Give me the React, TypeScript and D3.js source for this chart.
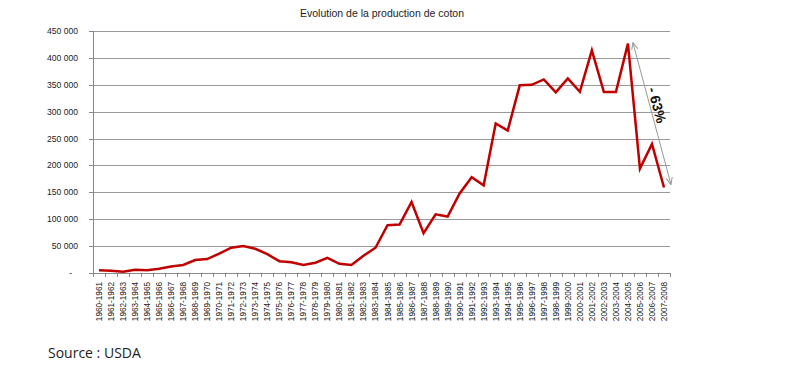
import React, { useEffect, useRef } from "react";
import * as d3 from "d3";

const seasons = [
  "1960-1961", "1961-1962", "1962-1963", "1963-1964", "1964-1965", "1965-1966",
  "1966-1967", "1967-1968", "1968-1969", "1969-1970", "1970-1971", "1971-1972",
  "1972-1973", "1973-1974", "1974-1975", "1975-1976", "1976-1977", "1977-1978",
  "1978-1979", "1979-1980", "1980-1981", "1981-1982", "1982-1983", "1983-1984",
  "1984-1985", "1985-1986", "1986-1987", "1987-1988", "1988-1989", "1989-1990",
  "1990-1991", "1991-1992", "1992-1993", "1993-1994", "1994-1995", "1995-1996",
  "1996-1997", "1997-1998", "1998-1999", "1999-2000", "2000-2001", "2001-2002",
  "2002-2003", "2003-2004", "2004-2005", "2005-2006", "2006-2007", "2007-2008",
];

const production = [
  5000, 4000, 2500, 6000, 5000, 8000,
  12000, 15000, 24000, 26000, 36000, 47000,
  50000, 45000, 35000, 22000, 20000, 15000,
  19000, 28000, 17000, 15000, 32000, 47000,
  89000, 90000, 132000, 74000, 109000, 105000,
  148000, 178000, 163000, 278000, 265000, 349000,
  350000, 360000, 336000, 362000, 337000, 414000,
  336500, 336500, 426500, 194000, 240000, 159000,
];

const yTicks = [0, 50000, 100000, 150000, 200000, 250000, 300000, 350000, 400000, 450000];

const title = "Evolution de la production de coton";
const source = "Source : USDA";
const dropLabel = "- 63%";

const W = 800;
const H = 366;

export default function App() {
  const svgRef = useRef<SVGSVGElement>(null);

  useEffect(() => {
    const svg = d3.select(svgRef.current);
    svg.selectAll("*").remove();

    const left = 93, right = 670, top = 31, bottom = 273;

    const x = d3.scaleBand().domain(seasons).range([left, right]);
    const y = d3.scaleLinear().domain([0, 450000]).range([bottom, top]);
    const cx = (s: string) => (x(s) as number) + x.bandwidth() / 2;

    // title
    svg.append("text")
      .attr("x", 382).attr("y", 17)
      .attr("text-anchor", "middle")
      .attr("font-family", "Liberation Sans, Arial, sans-serif")
      .attr("font-size", 10.5)
      .attr("fill", "#222")
      .text(title);

    // gridlines
    svg.append("g").selectAll("line")
      .data(yTicks.slice(1))
      .join("line")
      .attr("x1", left).attr("x2", right)
      .attr("y1", d => Math.round(y(d)) + 0.5).attr("y2", d => Math.round(y(d)) + 0.5)
      .attr("stroke", "#9a9a9a").attr("stroke-width", 1);

    // y axis
    const ya = svg.append("g");
    ya.append("line")
      .attr("x1", left + 0.5).attr("x2", left + 0.5)
      .attr("y1", top).attr("y2", bottom)
      .attr("stroke", "#888");
    ya.selectAll("line.tk")
      .data(yTicks)
      .join("line")
      .attr("class", "tk")
      .attr("x1", left - 4).attr("x2", left)
      .attr("y1", d => Math.round(y(d)) + 0.5).attr("y2", d => Math.round(y(d)) + 0.5)
      .attr("stroke", "#888");
    ya.selectAll("text")
      .data(yTicks)
      .join("text")
      .attr("x", d => (d === 0 ? 72 : 78))
      .attr("y", d => y(d) + 3)
      .attr("text-anchor", "end")
      .attr("font-family", "Liberation Sans, Arial, sans-serif")
      .attr("font-size", 8.6)
      .attr("fill", "#222")
      .text(d => (d === 0 ? "-" : d3.format(",")(d).replace(/,/g, " ")));

    // x axis
    const xa = svg.append("g");
    xa.append("line")
      .attr("x1", left).attr("x2", right)
      .attr("y1", bottom + 0.5).attr("y2", bottom + 0.5)
      .attr("stroke", "#888");
    xa.selectAll("line.tk")
      .data(seasons.concat(["end"]))
      .join("line")
      .attr("class", "tk")
      .attr("x1", (d, i) => Math.round(left + i * x.bandwidth()) + 0.5)
      .attr("x2", (d, i) => Math.round(left + i * x.bandwidth()) + 0.5)
      .attr("y1", bottom).attr("y2", bottom + 4)
      .attr("stroke", "#888");
    xa.selectAll("text")
      .data(seasons)
      .join("text")
      .attr("transform", d => `translate(${cx(d) + 3},${bottom + 9}) rotate(-90)`)
      .attr("text-anchor", "end")
      .attr("font-family", "Liberation Sans, Arial, sans-serif")
      .attr("font-size", 8.2)
      .attr("fill", "#222")
      .text(d => d);

    // line
    const line = d3.line<number>()
      .x((d, i) => cx(seasons[i]))
      .y(d => y(d));
    svg.append("path")
      .datum(production)
      .attr("d", line)
      .attr("fill", "none")
      .attr("stroke", "#c00000")
      .attr("stroke-width", 2.5)
      .attr("stroke-linejoin", "miter");

    // drop arrow from 2004-2005 peak to 2007-2008
    const defs = svg.append("defs");
    defs.append("marker")
      .attr("id", "ah")
      .attr("viewBox", "0 0 10 10")
      .attr("refX", 9).attr("refY", 5)
      .attr("markerWidth", 8).attr("markerHeight", 8)
      .attr("orient", "auto-start-reverse")
      .append("path")
      .attr("d", "M0,1 L9,5 L0,9")
      .attr("fill", "none")
      .attr("stroke", "#999")
      .attr("stroke-width", 1.2);

    const ax1 = cx("2004-2005") + 5, ay1 = y(426500) - 1;
    const ax2 = right + 1, ay2 = y(159000) - 3;
    svg.append("line")
      .attr("x1", ax1).attr("y1", ay1)
      .attr("x2", ax2).attr("y2", ay2)
      .attr("stroke", "#999").attr("stroke-width", 1)
      .attr("marker-start", "url(#ah)")
      .attr("marker-end", "url(#ah)");

    const angle = Math.atan2(ay2 - ay1, ax2 - ax1) * 180 / Math.PI;
    svg.append("text")
      .attr("transform", `translate(${ax1 + (ax2 - ax1) * 0.43 + 3},${y(310000)}) rotate(${angle})`)
      .attr("text-anchor", "middle")
      .attr("font-family", "Liberation Sans, Arial, sans-serif")
      .attr("font-size", 14)
      .attr("font-weight", "bold")
      .attr("fill", "#111")
      .text(dropLabel);

    // source
    svg.append("text")
      .attr("x", 48).attr("y", 358)
      .attr("font-family", "Open Sans, Liberation Sans, sans-serif")
      .attr("font-size", 14)
      .attr("fill", "#222")
      .text(source);
  }, []);

  return (
    <div style={{ position: "absolute", left: 0, top: 0 }}>
      <svg ref={svgRef} width={W} height={H} style={{ display: "block", background: "#fff" }} />
    </div>
  );
}
